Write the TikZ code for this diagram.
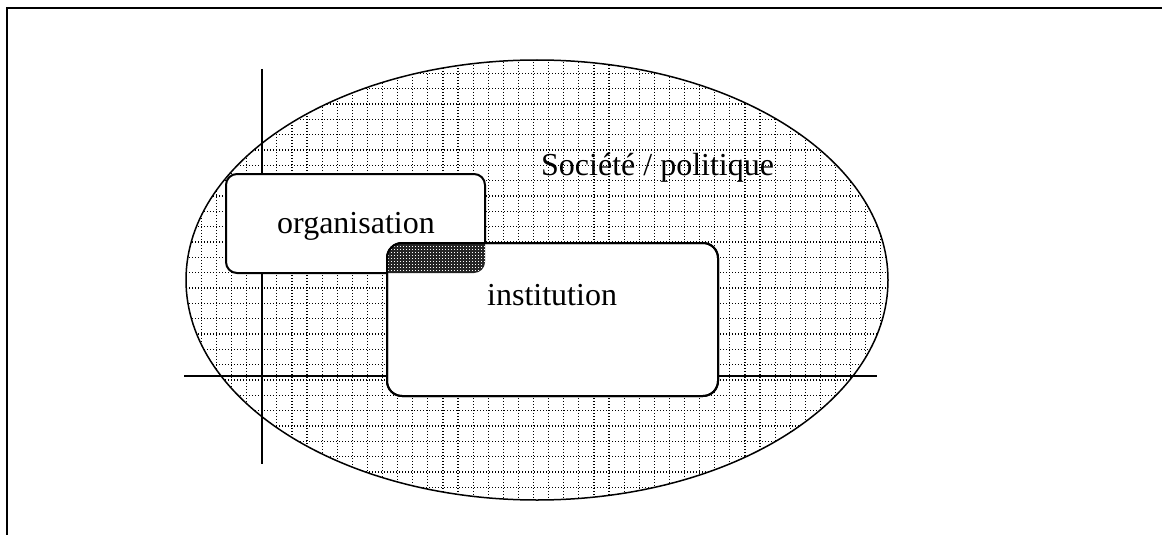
\documentclass[tikz,border=0pt]{standalone}
\usepackage{fontspec}
\setmainfont{Liberation Serif}
\usetikzlibrary{shapes.geometric}
\begin{document}
\begin{tikzpicture}[x=1pt,y=-1pt,
  frame/.style={line width=2pt},
  gridline/.style={line width=1.2pt, dash pattern=on 1.2pt off 1.8pt, black},
  axisline/.style={line width=1.5pt},
  box/.style={draw, line width=2pt, fill=white, outer sep=0pt, inner sep=0pt},
  lbl/.style={anchor=base west, inner sep=0pt, font=\fontsize{32}{38}\selectfont}]
\useasboundingbox (0,0) rectangle (1162,535);
\coordinate (ftr) at (1162,8);
\coordinate (ftl) at (6.5,8);
\coordinate (fbl) at (6.5,535);
\draw[frame] (ftr) -- (ftl) -- (fbl);
% grid inside ellipse
\begin{scope}
\clip (537,280) ellipse [x radius=351, y radius=220];
\foreach \i in {-28,...,18} \draw[gridline] ({609+15.1*\i},50) -- ({609+15.1*\i},510);
\foreach \k in {-7,...,24} \draw[gridline] (180,{150+15.33*\k}) -- (895,{150+15.33*\k});
\end{scope}
\node[draw, ellipse, line width=1.5pt, minimum width=702pt, minimum height=440pt, inner sep=0pt, outer sep=0pt] (soc) at (537,280) {};
% axes
\coordinate (vt) at (262,69);
\coordinate (vb) at (262,464);
\coordinate (hl) at (184,376);
\coordinate (hr) at (877,376);
\draw[axisline] (vt) -- (vb);
\draw[axisline] (hl) -- (hr);
% boxes
\node[box, rounded corners=11pt, minimum width=259pt, minimum height=99pt] (org) at (355.5,223.5) {};
\node[box, rounded corners=15pt, minimum width=331pt, minimum height=153pt] (inst) at (552.5,319.5) {};
\begin{scope}
\clip[rounded corners=11pt] (org.south west) rectangle (org.north east);
\clip[rounded corners=15pt] (inst.south west) rectangle (inst.north east);
\fill[black!85] (380,235) rectangle (490,280);
\foreach \i in {0,...,36} \draw[white, line width=1.1pt, dash pattern=on 1.1pt off 1.9pt] ({388.5+3*\i},243) -- ({388.5+3*\i},275);
\end{scope}
\draw[line width=2pt, rounded corners=15pt] (inst.south west) rectangle (inst.north east);
% labels
\node[lbl] (tsoc) at (541,175) {Société / politique};
\node[lbl] (torg) at (277,233) {organisation};
\node[lbl] (tinst) at (487,305) {institution};
\end{tikzpicture}
\end{document}
